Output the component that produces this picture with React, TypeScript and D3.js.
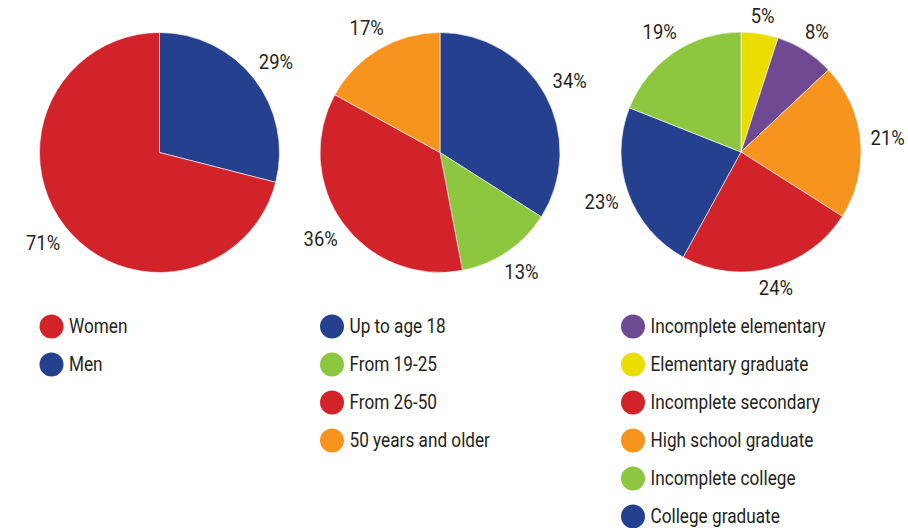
import React from "react";
import * as d3 from "d3";

const RED = "#d2232a";
const BLUE = "#25408f";
const GREEN = "#8dc63f";
const ORANGE = "#f7941d";
const PURPLE = "#6f4a92";
const YELLOW = "#ecdd00";

// Chart 1: gender
const genderLabels = ["Women", "Men"];
const genderValues = [71, 29];
const genderColors = [RED, BLUE];
const genderSliceOrder = ["Men", "Women"];

// Chart 2: age
const ageLabels = ["Up to age 18", "From 19-25", "From 26-50", "50 years and older"];
const ageValues = [34, 13, 36, 17];
const ageColors = [BLUE, GREEN, RED, ORANGE];
const ageSliceOrder = ["Up to age 18", "From 19-25", "From 26-50", "50 years and older"];

// Chart 3: education
const eduLabels = [
  "Incomplete elementary",
  "Elementary graduate",
  "Incomplete secondary",
  "High school graduate",
  "Incomplete college",
  "College graduate",
];
const eduValues = [8, 5, 24, 21, 19, 23];
const eduColors = [PURPLE, YELLOW, RED, ORANGE, GREEN, BLUE];
const eduSliceOrder = [
  "Elementary graduate",
  "Incomplete elementary",
  "High school graduate",
  "Incomplete secondary",
  "College graduate",
  "Incomplete college",
];

const FONT = "'Liberation Sans Narrow', 'Arial Narrow', 'Roboto', sans-serif";
const TEXT_COLOR = "#231f20";

type Item = { label: string; value: number; color: string };

function PieBlock({
  cx,
  cy,
  r,
  items,
  order,
  legendX,
}: {
  cx: number;
  cy: number;
  r: number;
  items: Item[];
  order: string[];
  legendX: number;
}) {
  const sorted = order.map((n) => items.find((d) => d.label === n)!);
  const pie = d3.pie<Item>().value((d) => d.value).sort(null);
  const arcs = pie(sorted);
  const arcGen = d3.arc<d3.PieArcDatum<Item>>().innerRadius(0).outerRadius(r);
  const total = d3.sum(items, (d) => d.value);
  const fmt = (v: number) => `${Math.round((v / total) * 100)}%`;
  const legendY = d3.scalePoint<number>().domain(d3.range(6)).range([326.5, 516.5]);
  const fs = 20;
  return (
    <g>
      <g transform={`translate(${cx},${cy})`}>
        {arcs.map((a, i) => (
          <path key={i} d={arcGen(a) || ""} fill={a.data.color} stroke="#ffffff" strokeWidth={0.6} />
        ))}
        {arcs.map((a, i) => {
          const mid = (a.startAngle + a.endAngle) / 2;
          const ux = Math.sin(mid);
          const uy = -Math.cos(mid);
          const txt = fmt(a.data.value);
          const w = txt.length * 10.5 + 4;
          const h = 14;
          const dist = r + 9 + (w / 2) * Math.abs(ux) + (h / 2) * Math.abs(uy);
          return (
            <text
              key={i}
              transform={`translate(${ux * dist},${uy * dist}) scale(0.92,1)`}
              textAnchor="middle"
              dominantBaseline="central"
              fontFamily={FONT}
              fontSize={fs}
              fill={TEXT_COLOR}
            >
              {txt}
            </text>
          );
        })}
      </g>
      {items.map((d, i) => (
        <g key={i} transform={`translate(${legendX},${legendY(i)})`}>
          <circle cx={0} cy={0} r={12} fill={d.color} />
          <text
            transform="translate(17.5,0) scale(0.86,1)"
            dominantBaseline="central"
            fontFamily={FONT}
            fontSize={fs}
            fill={TEXT_COLOR}
          >
            {d.label}
          </text>
        </g>
      ))}
    </g>
  );
}

function mk(labels: string[], values: number[], colors: string[]): Item[] {
  return labels.map((l, i) => ({ label: l, value: values[i], color: colors[i] }));
}

export default function App() {
  return (
    <svg
      width={908}
      height={528}
      style={{ position: "absolute", left: 0, top: 0, background: "#ffffff" }}
    >
      <PieBlock cx={159.5} cy={152.5} r={120} items={mk(genderLabels, genderValues, genderColors)} order={genderSliceOrder} legendX={51.5} />
      <PieBlock cx={440} cy={152.5} r={120} items={mk(ageLabels, ageValues, ageColors)} order={ageSliceOrder} legendX={332} />
      <PieBlock cx={741} cy={152} r={120} items={mk(eduLabels, eduValues, eduColors)} order={eduSliceOrder} legendX={633} />
    </svg>
  );
}
